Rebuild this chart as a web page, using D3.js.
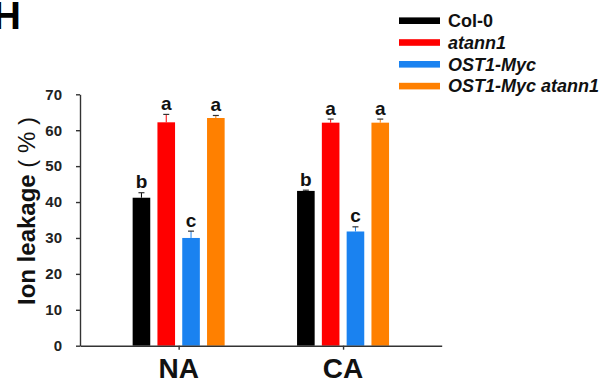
<!DOCTYPE html>
<html>
<head>
<meta charset="utf-8">
<script src="https://d3js.org/d3.v7.min.js"></script>
<style>
	body { margin: 0; background: #fff; }
	svg { font-family: "Liberation Sans", Arial, sans-serif; }
	.axis path, .axis line { stroke: #333; stroke-width: 1.4; }
	.axis text { font-size: 15px; font-weight: bold; fill: #222; }
</style>
</head>
<body>
<div id="chart"></div>
<script>

// data
let groups = ["NA", "CA"];
let series = ["Col-0", "atann1", "OST1-Myc", "OST1-Myc atann1"];
let colors = ["#000000", "#ff0000", "#1a82f0", "#ff8000"];
let italicName = [false, true, true, true];
let valuesNA = [41.2, 62.2, 30.0, 63.4];
let valuesCA = [43.1, 62.1, 31.8, 62.1];
let errorsNA = [1.4, 2.2, 1.9, 0.7];
let errorsCA = [0.2, 1.0, 1.3, 1.0];
let lettersNA = ["b", "a", "c", "a"];
let lettersCA = ["b", "a", "c", "a"];
let yTicks = [0, 10, 20, 30, 40, 50, 60, 70];

let allValues = [valuesNA, valuesCA];
let allErrors = [errorsNA, errorsCA];
let allLetters = [lettersNA, lettersCA];

let width = 605, height = 383;

let svg = d3.select("#chart").append("svg")
	.attr("width", width)
	.attr("height", height);

// scales
let y = d3.scaleLinear()
	.domain([0, 70])
	.range([345.7, 94.3]);

let x0 = d3.scalePoint()
	.domain(groups)
	.range([80, 441.7])
	.padding(0.6);

let x1 = d3.scaleBand()
	.domain(series)
	.range([-46, 46])
	.paddingInner(0.29);

// flatten for drawing
let bars = [];
groups.forEach(function(g, gi) {
	series.forEach(function(s, si) {
		bars.push({
			group: g, key: s, color: colors[si],
			value: allValues[gi][si],
			err: allErrors[gi][si],
			letter: allLetters[gi][si]
		});
	});
});

// panel letter (cropped at the left edge in the original figure)
svg.append("text")
	.attr("x", 21)
	.attr("y", 29)
	.attr("text-anchor", "end")
	.attr("font-size", 39)
	.attr("font-weight", "bold")
	.text("H");

// bars
svg.selectAll(".bar")
	.data(bars)
	.enter()
	.append("rect")
	.attr("class", "bar")
	.attr("x", d => x0(d.group) + x1(d.key))
	.attr("y", d => y(d.value))
	.attr("width", x1.bandwidth())
	.attr("height", d => y(0) - y(d.value))
	.attr("fill", d => d.color);

// error bars (stem in bar colour, dark cap)
let cx = d => x0(d.group) + x1(d.key) + x1.bandwidth() / 2;

svg.selectAll(".err-stem")
	.data(bars)
	.enter()
	.append("line")
	.attr("class", "err-stem")
	.attr("x1", cx).attr("x2", cx)
	.attr("y1", d => y(d.value))
	.attr("y2", d => y(d.value + d.err))
	.attr("stroke", d => d.color)
	.attr("stroke-width", 1);

svg.selectAll(".err-cap")
	.data(bars)
	.enter()
	.append("line")
	.attr("class", "err-cap")
	.attr("x1", d => cx(d) - 3).attr("x2", d => cx(d) + 3)
	.attr("y1", d => y(d.value + d.err))
	.attr("y2", d => y(d.value + d.err))
	.attr("stroke", "#333")
	.attr("stroke-width", 1.2);

// significance letters
svg.selectAll(".sig")
	.data(bars)
	.enter()
	.append("text")
	.attr("class", "sig")
	.attr("x", cx)
	.attr("y", d => y(d.value + d.err) - 4.5)
	.attr("text-anchor", "middle")
	.attr("font-size", 19)
	.attr("font-weight", "bold")
	.attr("fill", "#111")
	.text(d => d.letter);

// axes
let yAxis = d3.axisLeft(y)
	.tickValues(yTicks)
	.tickSizeInner(4)
	.tickSizeOuter(0)
	.tickPadding(14);

svg.append("g")
	.attr("class", "y-axis axis")
	.attr("transform", "translate(80,0)")
	.call(yAxis);

let xAxis = d3.axisBottom(d3.scaleLinear().domain([80, 441.7]).range([80, 441.7]))
	.tickValues(groups.map(g => x0(g)))
	.tickFormat("")
	.tickSizeInner(4)
	.tickSizeOuter(0);

svg.append("g")
	.attr("class", "x-axis axis")
	.attr("transform", "translate(0," + y(0) + ")")
	.call(xAxis);

// group labels
svg.selectAll(".group-label")
	.data(groups)
	.enter()
	.append("text")
	.attr("class", "group-label")
	.attr("x", d => x0(d))
	.attr("y", 378)
	.attr("text-anchor", "middle")
	.attr("font-size", 28)
	.attr("font-weight", "bold")
	.attr("fill", "#111")
	.text(d => d);

// y title
let yTitle = svg.append("text")
	.attr("transform", "translate(35,211) rotate(-90)")
	.attr("text-anchor", "middle")
	.attr("font-size", 24)
	.attr("fill", "#111");
yTitle.append("tspan").attr("font-weight", "bold").text("Ion leakage ");
yTitle.append("tspan").text("( % )");

// legend
let legend = svg.selectAll(".legend")
	.data(series)
	.enter()
	.append("g")
	.attr("class", "legend")
	.attr("transform", (d, i) => "translate(399," + (20.7 + i * 21.8) + ")");

legend.append("rect")
	.attr("x", 0)
	.attr("y", -3.3)
	.attr("width", 41)
	.attr("height", 6.6)
	.attr("fill", (d, i) => colors[i]);

legend.append("text")
	.attr("x", 49)
	.attr("y", 6.3)
	.attr("font-size", 18)
	.attr("font-weight", "bold")
	.attr("font-style", (d, i) => italicName[i] ? "italic" : "normal")
	.attr("fill", "#111")
	.text(d => d);

</script>
</body>
</html>
